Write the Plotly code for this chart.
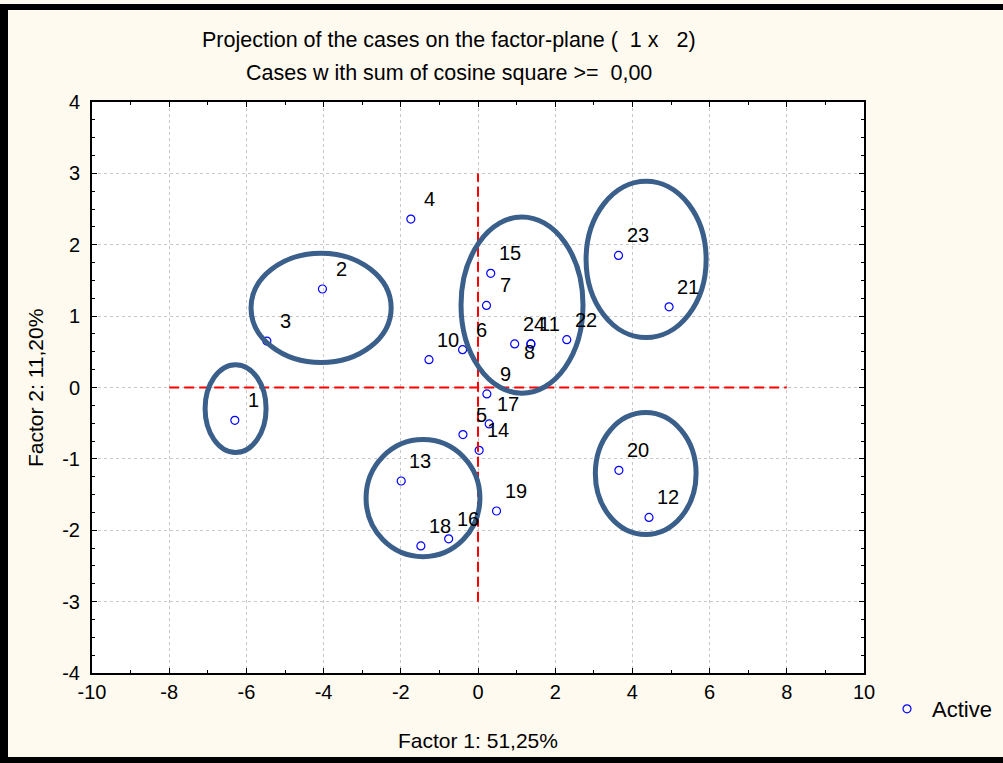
import plotly.graph_objects as go

# ---- data ----
case_labels = ["1", "2", "3", "4", "5", "6", "7", "8", "9", "10", "11", "12",
               "13", "14", "15", "16", "17", "18", "19", "20", "21", "22", "23", "24"]
factor1 = [-6.30, -4.03, -5.47, -1.74, -0.39, -0.40, 0.22, 1.37, 0.23, -1.27, 1.37, 4.43,
           -1.99, 0.03, 0.33, -0.76, 0.29, -1.48, 0.48, 3.65, 4.95, 2.30, 3.64, 0.95]
factor2 = [-0.46, 1.38, 0.65, 2.36, -0.66, 0.53, 1.15, 0.61, -0.09, 0.39, 0.61, -1.82,
           -1.31, -0.88, 1.60, -2.12, -0.51, -2.22, -1.73, -1.16, 1.13, 0.67, 1.85, 0.61]

# group ellipses (x0, x1, y0, y1) in factor units
ellipse_x0 = [-7.07, -5.88, -0.44, 2.80, -2.90, 3.04]
ellipse_x1 = [-5.49, -2.25, 2.72, 5.91, 0.05, 5.65]
ellipse_y0 = [-0.91, 0.35, -0.08, 0.70, -2.37, -2.06]
ellipse_y1 = [0.32, 1.88, 2.39, 2.89, -0.73, -0.35]

# reference axes lines
hline_x = [-8, 8]
vline_y = [-3, 3]

x_ticks = [-10, -8, -6, -4, -2, 0, 2, 4, 6, 8, 10]
y_ticks = [-4, -3, -2, -1, 0, 1, 2, 3, 4]

W, H = 1003, 763
L, R, T, B = 92, 139, 102, 90
pw, ph = W - L - R, H - T - B

def px_x(px):
    return (px - L) / pw

def px_y(py):
    return (H - B - py) / ph

FONT = "Liberation Sans, Arial, sans-serif"

fig = go.Figure()
fig.add_trace(go.Scatter(
    x=factor1, y=factor2, mode="markers", name="Active",
    marker=dict(symbol="circle-open", size=8, color="#0000FF", line=dict(width=1.2)),
    showlegend=True,
))

shapes = []
# red dashed axis lines
shapes.append(dict(type="line", xref="x", yref="y", x0=hline_x[0], x1=hline_x[1], y0=0, y1=0,
                   line=dict(color="#FF0000", width=2, dash="10px,5px")))
shapes.append(dict(type="line", xref="x", yref="y", x0=0, x1=0, y0=vline_y[0], y1=vline_y[1],
                   line=dict(color="#FF0000", width=2, dash="10px,5px")))
for a, b, c, d in zip(ellipse_x0, ellipse_x1, ellipse_y0, ellipse_y1):
    shapes.append(dict(type="circle", xref="x", yref="y", x0=a, x1=b, y0=c, y1=d,
                       line=dict(color="#3A5F8B", width=5)))

# black frame bands around the figure
shapes.append(dict(type="rect", xref="paper", yref="paper", layer="above",
                   x0=px_x(0), x1=px_x(W + 5), y0=px_y(10), y1=px_y(4),
                   fillcolor="black", line=dict(width=0)))
shapes.append(dict(type="rect", xref="paper", yref="paper", layer="above",
                   x0=px_x(-2), x1=px_x(8), y0=px_y(H + 2), y1=px_y(4),
                   fillcolor="black", line=dict(width=0)))
shapes.append(dict(type="rect", xref="paper", yref="paper", layer="above",
                   x0=px_x(-2), x1=px_x(W + 5), y0=px_y(H + 2), y1=px_y(757),
                   fillcolor="black", line=dict(width=0)))

annotations = []
for lab, xv, yv in zip(case_labels, factor1, factor2):
    dx, dy = 19, 20
    if lab == "8":
        dx, dy = -1, -8
    annotations.append(dict(x=xv, y=yv, xref="x", yref="y", text=lab, showarrow=False,
                            xshift=dx, yshift=dy, xanchor="center", yanchor="middle",
                            font=dict(family=FONT, size=20, color="black")))

annotations.append(dict(xref="paper", yref="paper", x=px_x(449), y=px_y(40),
                        text="Projection of the cases on the factor-plane (  1 x   2)",
                        showarrow=False, xanchor="center", yanchor="middle",
                        font=dict(family=FONT, size=21.5, color="black")))
annotations.append(dict(xref="paper", yref="paper", x=px_x(449), y=px_y(73),
                        text="Cases w ith sum of cosine square >=  0,00",
                        showarrow=False, xanchor="center", yanchor="middle",
                        font=dict(family=FONT, size=21.5, color="black")))
annotations.append(dict(xref="paper", yref="paper", x=px_x(478), y=px_y(740),
                        text="Factor 1: 51,25%", showarrow=False,
                        xanchor="center", yanchor="middle",
                        font=dict(family=FONT, size=21, color="black")))
annotations.append(dict(xref="paper", yref="paper", x=px_x(35), y=px_y(388),
                        text="Factor 2: 11,20%", showarrow=False, textangle=-90,
                        xanchor="center", yanchor="middle",
                        font=dict(family=FONT, size=21, color="black")))

axis_common = dict(showline=True, linecolor="black", linewidth=2, mirror="ticks",
                   ticks="inside", ticklen=5, tickcolor="black", tickwidth=1,
                   showgrid=True, gridcolor="#C8C8C8", griddash="dot", gridwidth=1,
                   zeroline=False, tickfont=dict(family=FONT, size=20, color="black"))

fig.update_layout(
    width=W, height=H,
    margin=dict(l=L, r=R, t=T, b=B, pad=0, autoexpand=False),
    paper_bgcolor="#FFFAF0", plot_bgcolor="white",
    xaxis=dict(range=[-10, 10], tickvals=x_ticks, ticktext=[str(v) for v in x_ticks],
               minor=dict(dtick=1, ticks="inside", ticklen=3, tickcolor="black", showgrid=False),
               ticklabelstandoff=0, **axis_common),
    yaxis=dict(range=[-4, 4], tickvals=y_ticks, ticktext=[str(v) for v in y_ticks],
               minor=dict(dtick=0.25, ticks="inside", ticklen=3, tickcolor="black", showgrid=False),
               ticklabelstandoff=6, **axis_common),
    shapes=shapes,
    annotations=annotations,
    legend=dict(x=px_x(882), y=px_y(709), xanchor="left", yanchor="middle", itemwidth=40,
                bgcolor="rgba(0,0,0,0)", font=dict(family=FONT, size=22, color="black")),
    showlegend=True,
)

fig.write_html("out.html", config={"displayModeBar": False},
               post_script="document.body.style.margin='0px';")
